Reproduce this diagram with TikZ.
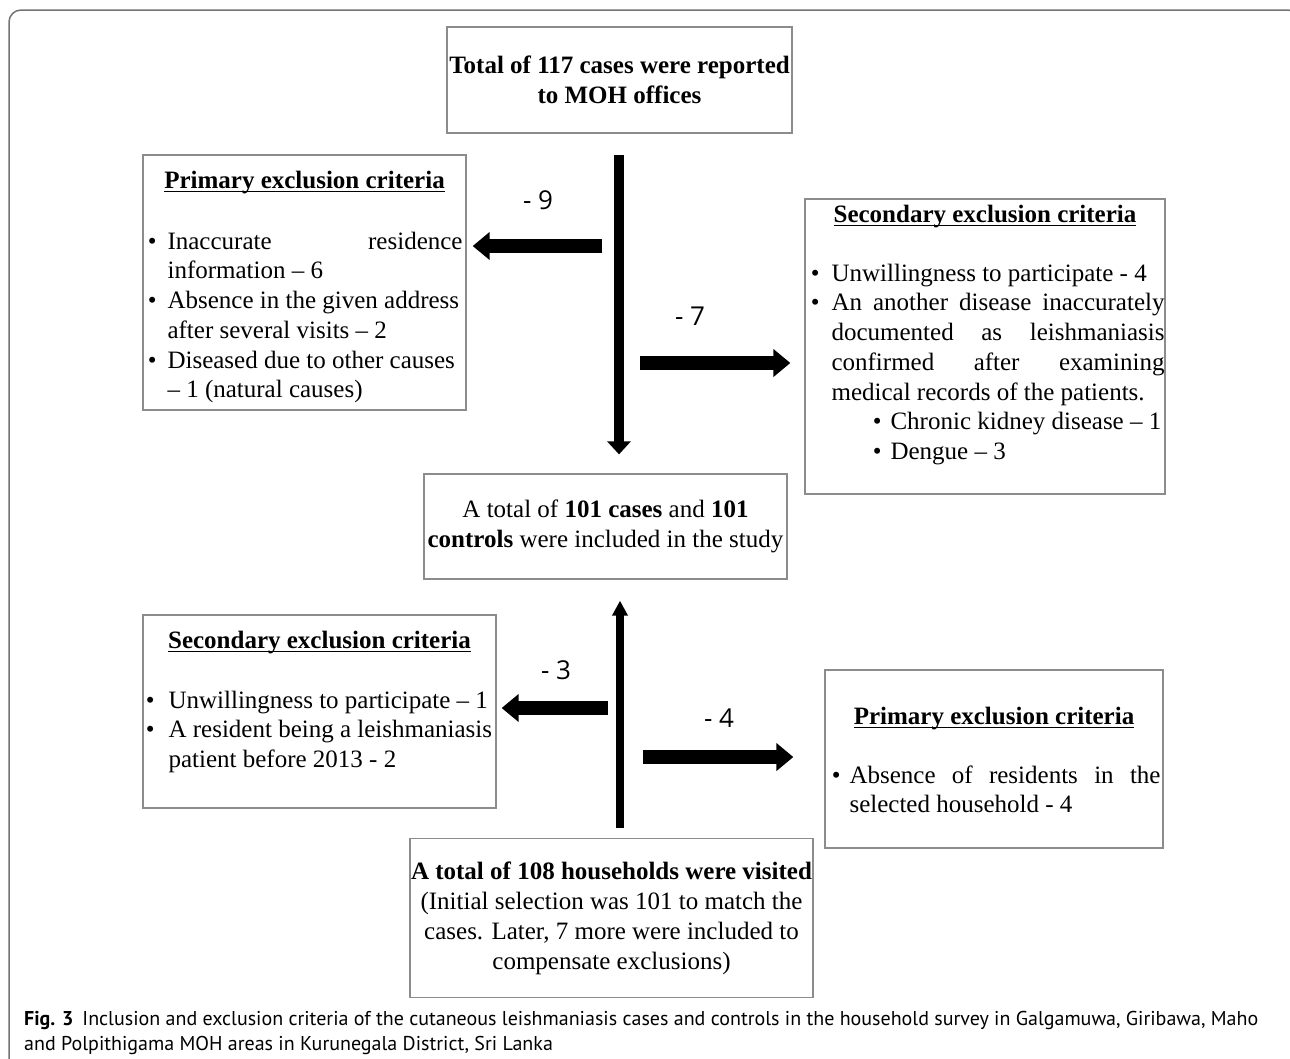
\documentclass[tikz,border=0pt]{standalone}
\usepackage{fontspec}
\setmainfont{Liberation Serif}
\newfontfamily\cutfont{Open Sans}
\newfontfamily\capfont{PT Sans}
\usepackage{enumitem}
\usetikzlibrary{arrows.meta,positioning,calc}
\setlist[itemize]{label=\textbullet,topsep=0pt,partopsep=0pt,itemsep=0pt,parsep=0pt}
\hyphenpenalty=10000
\exhyphenpenalty=10000
\newcommand\critul[1]{\setbox0=\hbox{#1}\rlap{\rule[-3.5pt]{\wd0}{1.3pt}}\box0}
\tikzset{
  frame/.style={draw=black!55,line width=1.5pt,rounded corners=12pt},
  box/.style={draw=black!45,line width=1.3pt,inner sep=0pt},
  flow/.style={box,align=center,font=\fontsize{25}{30}\selectfont},
  crittitle/.style={inner sep=0pt,font=\bfseries\fontsize{25}{30}\selectfont},
  critlist/.style={inner sep=0pt,anchor=north west,align=justify,font=\fontsize{25}{29.7}\selectfont},
  trunk/.style={line width=10.5pt,-{Triangle[width=23pt,length=13pt]}},
  uptrunk/.style={line width=8.5pt,-{Triangle[width=15pt,length=15pt]}},
  branch/.style={line width=14pt,-{Triangle[width=27pt,length=17pt]}},
  cut/.style={inner sep=0pt,font=\cutfont\fontsize{26}{30}\selectfont},
  caption/.style={inner sep=0pt,anchor=west,align=left,font=\capfont\fontsize{20}{25}\selectfont},
}

\begin{document}
\begin{tikzpicture}[x=1pt,y=-1pt,>=Latex]
\useasboundingbox (0,0) rectangle (1290,1058);
\draw[frame] (9,1080) |- (1300,10) -- (1300,60);

% main flow
\node[flow,minimum width=345pt,minimum height=106pt] (reported) at (619.5,80)
  {\textbf{Total of 117 cases were reported}\\\textbf{to MOH offices}};
\node[flow,minimum width=363pt,minimum height=105pt] (included) at (605.5,526.5)
  {A total of \textbf{101 cases} and \textbf{101}\\\textbf{controls} were included in the study};
\node[flow,minimum width=403pt,minimum height=159pt] (visited) at (611.5,918)
  {\textbf{A total of 108 households were visited}\\(Initial selection was 101 to match the\\cases. Later, 7 more were included to\\compensate exclusions)};

% exclusion boxes
\node[box,minimum width=323pt,minimum height=255pt] (primcases) at (304.5,282.5) {};
\node[box,minimum width=360pt,minimum height=295pt] (seccases) at (985,346.5) {};
\node[box,minimum width=353pt,minimum height=193pt] (sechouse) at (319.5,711.5) {};
\node[box,minimum width=338pt,minimum height=178pt] (primhouse) at (994,759) {};

\node[crittitle] (primcaseshead) at ([yshift=-28pt]primcases.north) {\critul{Primary exclusion criteria}};
\node[crittitle] (seccaseshead) at ([yshift=-18pt]seccases.north) {\critul{Secondary exclusion criteria}};
\node[crittitle] (sechousehead) at ([yshift=-28pt]sechouse.north) {\critul{Secondary exclusion criteria}};
\node[crittitle] (primhousehead) at ([yshift=-49pt]primhouse.north) {\critul{Primary exclusion criteria}};

\node[critlist,text width=317pt] (primcaseslist) at ([xshift=3pt,yshift=-65pt]primcases.north west) {%
\begin{itemize}[leftmargin=22pt,labelsep=11pt]
\item Inaccurate residence\linebreak information -- 6
\item Absence in the given address\newline after several visits -- 2
\item Diseased due to other causes\newline -- 1 (natural causes)
\end{itemize}};
\node[critlist,text width=357pt] (seccaseslist) at ([xshift=3pt,yshift=-53pt]seccases.north west) {%
\begin{itemize}[leftmargin=24pt,labelsep=12pt]
\item Unwillingness to participate - 4
\item An another disease inaccurately\linebreak documented as leishmaniasis\linebreak confirmed after examining\linebreak medical records of the patients.
  \begin{itemize}[leftmargin=59pt,labelsep=9pt]
  \item Chronic kidney disease -- 1
  \item Dengue -- 3
  \end{itemize}
\end{itemize}};
\node[critlist,align=flush left,text width=360pt] (sechouselist) at ([xshift=3pt,yshift=-64pt]sechouse.north west) {%
\begin{itemize}[leftmargin=23pt,labelsep=14pt]
\item Unwillingness to participate -- 1
\item A resident being a leishmaniasis\newline patient before 2013 - 2
\end{itemize}};
\node[critlist,text width=329pt] (primhouselist) at ([xshift=7pt,yshift=-84pt]primhouse.north west) {%
\begin{itemize}[leftmargin=18pt,labelsep=9pt]
\item Absence of residents in the\linebreak selected household - 4
\end{itemize}};

% arrows
\coordinate (casesplit) at (619,155);
\coordinate (houseplit) at (620,828);
\coordinate (outA) at (602,246);
\coordinate (outB) at (640,363);
\coordinate (outC) at (608,708);
\coordinate (outD) at (643,757);
\draw[trunk,shorten >=19pt] (casesplit) -- (casesplit |- included.north);
\draw[uptrunk,shorten >=21pt] (houseplit) -- (houseplit |- included.south);
\draw[branch,shorten >=6pt] (outA) -- (outA -| primcases.east);
\draw[branch,shorten >=14pt] (outB) -- (outB -| seccases.west);
\draw[branch,shorten >=5pt] (outC) -- (outC -| sechouse.east);
\draw[branch,shorten >=31pt] (outD) -- (outD -| primhouse.west);

\node[cut] (cut9) at (538,200) {- 9};
\node[cut] (cut7) at (690,316) {- 7};
\node[cut] (cut3) at (556,670) {- 3};
\node[cut] (cut4) at (719,718) {- 4};

% caption
\node[caption] (figcap) at (24,1033) {\textbf{Fig. 3}\hspace{9pt}Inclusion and exclusion criteria of the cutaneous leishmaniasis cases and controls in the household survey in Galgamuwa, Giribawa, Maho\\and Polpithigama MOH areas in Kurunegala District, Sri Lanka};
\end{tikzpicture}
\end{document}
